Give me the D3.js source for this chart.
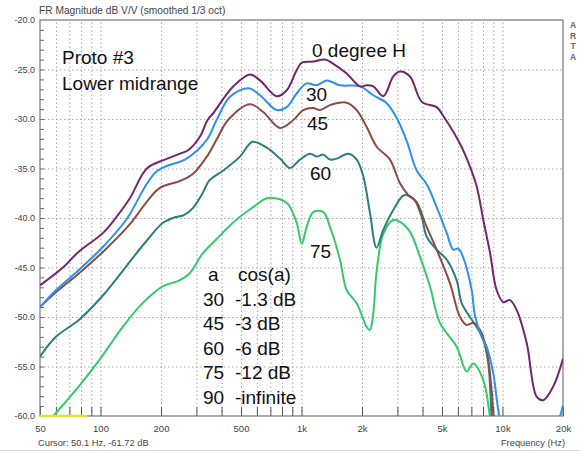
<!DOCTYPE html>
<html><head><meta charset="utf-8">
<script src="https://cdn.jsdelivr.net/npm/d3@7"></script>
<style>
html,body{margin:0;padding:0;background:#fff;}
svg{display:block;font-family:"Liberation Sans",Arial,sans-serif;}
</style></head><body>
<svg id="c" width="580" height="452"></svg>
<script>
// ---- data: [frequency Hz, magnitude dB] ----
const deg0 = [[50,-46.8],[65,-45.0],[78,-43.4],[103,-41.5],[119,-40.0],[140,-38.0],[170,-35.0],[209,-34.1],[249,-33.5],[275,-33.1],[312,-31.8],[341,-30.1],[364,-29.4],[458,-26.7],[554,-25.5],[622,-26.1],[753,-27.7],[844,-27.1],[947,-25.05],[1003,-24.3],[1145,-24.2],[1309,-24.0],[1434,-24.4],[1678,-25.4],[1955,-26.7],[2110,-26.6],[2276,-26.7],[2552,-27.7],[2862,-25.7],[3090,-25.2],[3466,-25.7],[3963,-28.25],[4703,-28.8],[5076,-29.7],[6146,-32.5],[6888,-34.8],[7440,-36.8],[8028,-40.2],[8666,-43.5],[9354,-47.3],[10092,-48.5],[10893,-48.3],[11770,-49.3],[13190,-52.6],[14795,-58.05],[15950,-58.4],[17900,-57.0],[20000,-54.2]];
const deg30 = [[50,-49.0],[60,-47.3],[78,-45.25],[103,-42.9],[134,-40.2],[190,-35.3],[268,-34.0],[338,-32.1],[378,-30.1],[441,-27.75],[544,-26.9],[622,-27.6],[753,-29.1],[844,-28.8],[947,-27.4],[1061,-26.4],[1190,-26.6],[1335,-26.1],[1554,-26.6],[1955,-26.7],[2276,-27.6],[2654,-28.4],[2976,-29.9],[3337,-32.2],[3742,-35.2],[4197,-36.6],[4703,-38.9],[5277,-41.5],[5690,-43.2],[6025,-43.1],[6380,-44.0],[7029,-47.3],[7300,-49.9],[7879,-52.0],[8338,-53.0],[8995,-55.7],[9530,-59.4],[10000,-61.5],[13000,-64],[17000,-63.5],[19300,-60.1],[20000,-58.9]];
const deg45 = [[50,-49.0],[60,-47.5],[78,-45.6],[103,-43.4],[139,-40.7],[168,-38.5],[196,-37.0],[253,-36.2],[290,-35.5],[338,-33.8],[380,-32.0],[431,-30.1],[554,-28.5],[645,-29.3],[782,-30.9],[910,-30.1],[1020,-29.1],[1145,-28.9],[1236,-29.1],[1386,-28.6],[1678,-28.35],[1882,-29.1],[2110,-30.8],[2367,-32.8],[2756,-34.1],[3090,-36.5],[3399,-37.7],[3742,-38.4],[4115,-40.5],[4703,-43.2],[5480,-46.6],[6146,-50.0],[6636,-50.8],[7155,-50.6],[7727,-51.3],[8338,-53.3],[8830,-57.4],[9030,-60.2],[9300,-63]];
const deg60 = [[50,-54.0],[60,-52.0],[78,-50.3],[103,-47.8],[134,-44.9],[168,-42.4],[204,-40.5],[237,-39.9],[260,-39.7],[288,-39.0],[322,-37.5],[348,-36.2],[408,-35.2],[494,-33.8],[571,-32.3],[671,-32.9],[782,-34.0],[876,-34.95],[983,-34.1],[1103,-33.5],[1190,-33.8],[1284,-33.6],[1386,-34.1],[1497,-34.0],[1709,-33.5],[1882,-34.1],[2030,-35.8],[2192,-39.5],[2362,-43.0],[2552,-41.2],[2862,-39.2],[3235,-37.7],[3596,-38.0],[3963,-39.9],[4197,-41.9],[4703,-43.2],[5277,-44.2],[5915,-46.3],[6265,-48.6],[6888,-50.0],[7440,-51.0],[8028,-52.3],[8497,-54.7],[8830,-60.2],[9000,-63]];
const deg75 = [[50,-61.6],[58.3,-60.0],[78,-57.0],[99,-54.3],[129,-51.0],[162,-48.6],[204,-46.9],[247,-46.3],[277,-45.6],[322,-43.6],[375,-42.2],[472,-40.2],[575,-38.9],[671,-38.0],[782,-38.1],[857,-38.6],[947,-40.5],[1003,-42.6],[1061,-40.9],[1145,-39.4],[1284,-39.4],[1386,-40.9],[1554,-44.2],[1678,-47.3],[1882,-48.6],[2110,-51.0],[2192,-51.3],[2276,-49.6],[2362,-45.5],[2552,-41.6],[2862,-40.2],[3090,-40.4],[3466,-41.4],[3885,-43.9],[4356,-46.9],[4885,-50.6],[5915,-53.0],[6636,-55.5],[7155,-54.7],[8028,-56.4],[8666,-60.1],[9000,-63]];
const cursorMark = [[50,-60],[85.7,-60]];

const seriesNames = ["0 degree H","30","45","60","75"];
const xMajorTicks = [50,100,200,500,1000,2000,5000,10000,20000];
const xTickLabels = ["50","100","200","500","1k","2k","5k","10k","20k"];
const xMinorTicks = [60,70,80,90,300,400,600,700,800,900,3000,4000,6000,7000,8000,9000];
const xGridTicks = [60,70,80,90,100,200,300,400,500,600,700,800,900,1000,2000,3000,4000,5000,6000,7000,8000,9000,10000];
const yTicks = [-20,-25,-30,-35,-40,-45,-50,-55,-60];
const yGridTicks = [-25,-30,-35,-40,-45,-50,-55];
const titleText = "FR Magnitude dB V/V (smoothed 1/3 oct)";
const cursorText = "Cursor: 50.1 Hz, -61.72 dB";
const xAxisTitle = "Frequency (Hz)";
const brandLetters = ["A","R","T","A"];
const noteLines = ["Proto #3","Lower midrange"];
const tableCol1 = ["a","30","45","60","75","90"];
const tableCol2 = ["cos(a)","-1.3 dB","-3 dB","-6 dB","-12 dB","-infinite"];

// ---- layout ----
const L = 40, R = 563, T = 20, B = 416;
const svg = d3.select("#c");
const x = d3.scaleLog().domain([50,20000]).range([L,R]);
const y = d3.scaleLinear().domain([-60,-20]).range([B,T]);

// grid
svg.append("g").attr("transform",`translate(0,${B})`)
  .call(d3.axisBottom(x).tickValues(xGridTicks).tickSize(-(B-T)).tickFormat(""))
  .call(g=>{g.select(".domain").remove();
    g.selectAll("line").attr("stroke","#a8a8a8").attr("stroke-dasharray","1.5,2.5");});
svg.append("g").attr("transform",`translate(${L},0)`)
  .call(d3.axisLeft(y).tickValues(yGridTicks).tickSize(-(R-L)).tickFormat(""))
  .call(g=>{g.select(".domain").remove();
    g.selectAll("line").attr("stroke","#a8a8a8").attr("stroke-dasharray","1.5,2.5");});

// minor y ticks (1 dB)
svg.append("g").attr("transform",`translate(${L},0)`)
  .call(d3.axisLeft(y).tickValues(d3.range(-59,-20,1)).tickSize(-4).tickFormat(""))
  .call(g=>{g.select(".domain").remove(); g.selectAll("line").attr("stroke","#666");});

// x tick marks
svg.append("g").attr("transform",`translate(0,${B})`)
  .call(d3.axisBottom(x).tickValues(xMajorTicks.concat(xMinorTicks)).tickSizeInner(-9).tickSizeOuter(0).tickFormat(""))
  .call(g=>{g.select(".domain").remove(); g.selectAll("line").attr("stroke","#555");});

// x labels
svg.append("g").attr("transform",`translate(0,${B})`)
  .call(d3.axisBottom(x).tickValues(xMajorTicks).tickSize(0).tickPadding(9).tickFormat((d,i)=>xTickLabels[i]))
  .call(g=>{g.select(".domain").remove();
    g.selectAll("text").attr("font-size","9.5px").attr("fill","#444").attr("font-family","Liberation Sans, Arial, sans-serif");});

// y labels
svg.append("g").attr("transform",`translate(${L},0)`)
  .call(d3.axisLeft(y).tickValues(yTicks).tickSize(0).tickPadding(5).tickFormat(d=>d.toFixed(1)))
  .call(g=>{g.select(".domain").remove();
    g.selectAll("text").attr("font-size","9px").attr("fill","#444").attr("font-family","Liberation Sans, Arial, sans-serif");});

// frame
svg.append("rect").attr("x",L).attr("y",T).attr("width",R-L).attr("height",B-T)
  .attr("fill","none").attr("stroke","#777").attr("stroke-width",1.2);

// curves
svg.append("clipPath").attr("id","clip").append("rect")
  .attr("x",L).attr("y",T).attr("width",R-L).attr("height",B-T);
const line = d3.line().x(d=>x(d[0])).y(d=>y(d[1])).curve(d3.curveCatmullRom.alpha(0.5));
const series = [deg0,deg30,deg45,deg60,deg75];
const colors = ["#73266f","#2f8ff0","#8c4c44","#2a7f7b","#35c96a"];
const gC = svg.append("g").attr("clip-path","url(#clip)");
series.slice().reverse().forEach((s,i)=>{
  const k = series.length-1-i;
  gC.append("path").attr("d",line(s)).attr("fill","none")
    .attr("stroke",colors[k]).attr("stroke-width",2).attr("stroke-linejoin","round");
});
// yellow cursor marker
svg.append("path").attr("d",d3.line().x(d=>x(d[0])).y(d=>y(d[1]))(cursorMark))
  .attr("stroke","#e4dc3a").attr("stroke-width",2.5).attr("fill","none");

// page bottom border line
svg.append("line").attr("x1",0).attr("x2",580).attr("y1",450.5).attr("y2",450.5)
  .attr("stroke","#dcdcdc").attr("stroke-width",1);

// small texts
const small = (t,xx,yy,anchor,size)=>svg.append("text").attr("x",xx).attr("y",yy)
  .attr("text-anchor",anchor||"start").attr("font-size",(size||9.5)+"px").attr("fill","#444").text(t);
small(titleText,39,14,"start",10.2);
small(cursorText,38,446,"start",9.3);
small(xAxisTitle,565,446,"end",9.3);
brandLetters.forEach((c,i)=>svg.append("text").attr("x",573).attr("y",28+i*10.5)
  .attr("text-anchor","middle").attr("font-size","8.5px").attr("font-weight","bold").attr("fill","#666").text(c));

// annotations
const big = (t,xx,yy,anchor)=>svg.append("text").attr("x",xx).attr("y",yy)
  .attr("text-anchor",anchor||"start").attr("font-size","19px").attr("fill","#111").text(t);
big(noteLines[0],62,64);
big(noteLines[1],62,90);
big(seriesNames[0],312,57);
big(seriesNames[1],306,101);
big(seriesNames[2],307,130);
big(seriesNames[3],310,180);
big(seriesNames[4],310,258);
tableCol1.forEach((t,i)=>big(t,i===0?208:203,281+i*24.5));
tableCol2.forEach((t,i)=>big(t,i===0?238:235,281+i*24.5));
</script>
</body></html>
